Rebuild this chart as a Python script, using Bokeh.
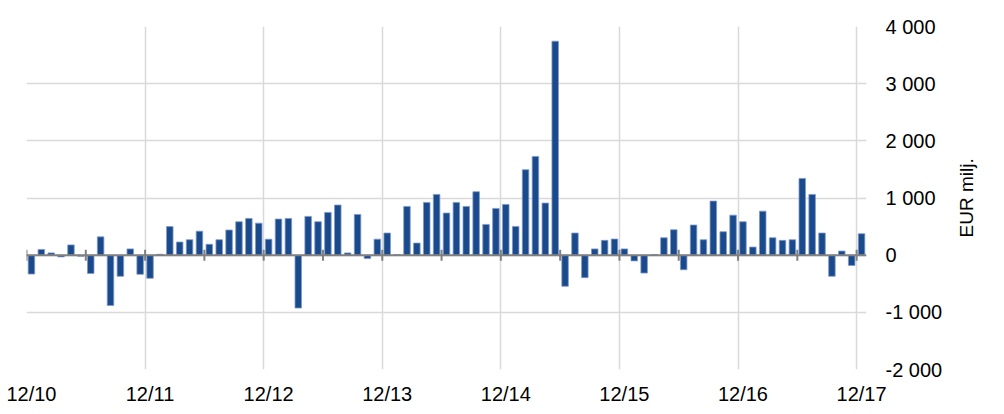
import math
from bokeh.plotting import figure
from bokeh.models import FixedTicker, Span, Range1d, LinearAxis
from bokeh.embed import file_html
from bokeh.resources import INLINE

# Monthly values, 12/10 .. 12/17 (EUR milj.)
values = [
    -330, 100, 40, -30, 180, -20, -320, 320, -880, -370, 110, -335,
    -405, 15, 500, 230, 270, 420, 190, 270, 440, 585, 643, 560,
    280, 632, 643, -925, 678, 585, 748, 877, 40, 713, -60, 280,
    387, 10, 853, 212, 923, 1063, 737, 923, 853, 1110, 538, 818,
    888, 503, 1495, 1727, 911, 3743, -545, 387, -393, 110, 259, 282,
    110, -100, -313, 10, 305, 445, -255, 527, 270, 946, 410, 700,
    585, 142, 770, 305, 259, 270, 1342, 1063, 387, -370, 72, -180,
    375,
]
x_labels = ["12/10", "12/11", "12/12", "12/13", "12/14", "12/15", "12/16", "12/17"]
y_ticks = [-2000, -1000, 0, 1000, 2000, 3000, 4000]
y_labels = ["-2 000", "-1 000", "0", "1 000", "2 000", "3 000", "4 000"]
y_title = "EUR milj."

n = len(values)
xs = [i + 0.5 for i in range(n)]
year_starts = list(range(0, n, 12))
half_years = list(range(0, n, 6))

FONT = "Liberation Sans"

p = figure(
    frame_width=840, frame_height=343,
    min_border_left=26, min_border_top=26, min_border_right=130, min_border_bottom=40,
    x_range=Range1d(0, n), y_range=Range1d(-2000, 4000),
    output_backend="svg", toolbar_location=None,
    y_axis_location="right",
)
p.outline_line_color = None
p.background_fill_color = "white"

# grids
p.xgrid.ticker = FixedTicker(ticks=year_starts)
p.ygrid.ticker = FixedTicker(ticks=y_ticks)
for g in (p.xgrid, p.ygrid):
    g.grid_line_color = "#d9d9d9"
    g.grid_line_width = 1.5

# x axis
xa = p.xaxis[0]
xa.ticker = FixedTicker(ticks=[year_starts[k] + 0.5 for k in range(len(x_labels))])
xa.major_label_overrides = {year_starts[k] + 0.5: x_labels[k] for k in range(len(x_labels))}
xa.axis_line_color = None
xa.major_tick_line_color = None
xa.minor_tick_line_color = None
xa.major_label_standoff = 7
xa.major_label_text_font = FONT
xa.major_label_text_font_size = "20px"
xa.major_label_text_color = "#000000"

# y axis (right)
ya = p.yaxis[0]
ya.ticker = FixedTicker(ticks=y_ticks)
ya.major_label_overrides = {t: l for t, l in zip(y_ticks, y_labels)}
ya.axis_line_color = None
ya.major_tick_line_color = None
ya.minor_tick_line_color = None
ya.major_tick_out = 0
ya.major_label_standoff = 19
ya.major_label_text_font = FONT
ya.major_label_text_font_size = "20px"
ya.major_label_text_color = "#000000"

# y axis title as a rotated single tick label on an extra right axis
title_anchor = 310
ta = LinearAxis(
    ticker=FixedTicker(ticks=[title_anchor]),
    major_label_overrides={title_anchor: y_title},
    major_label_orientation=math.pi / 2,
    axis_line_color=None, major_tick_line_color=None, minor_tick_line_color=None,
    major_tick_out=0, major_label_standoff=21,
    major_label_text_font=FONT, major_label_text_font_size="19px",
    major_label_text_color="#000000",
)
p.add_layout(ta, "right")

# bars
p.vbar(x=xs, top=values, bottom=0, width=0.66,
       fill_color="#1a4a8c", line_color="#7d9bc9", line_width=0.8)

# zero line and its ticks
p.add_layout(Span(location=0, dimension="width", line_color="#808080", line_width=2))
p.rect(x=half_years, y=[0] * len(half_years), width=2, height=11,
       width_units="screen", height_units="screen",
       fill_color="#808080", line_color=None)

open("out.html", "w").write(file_html(p, INLINE))
